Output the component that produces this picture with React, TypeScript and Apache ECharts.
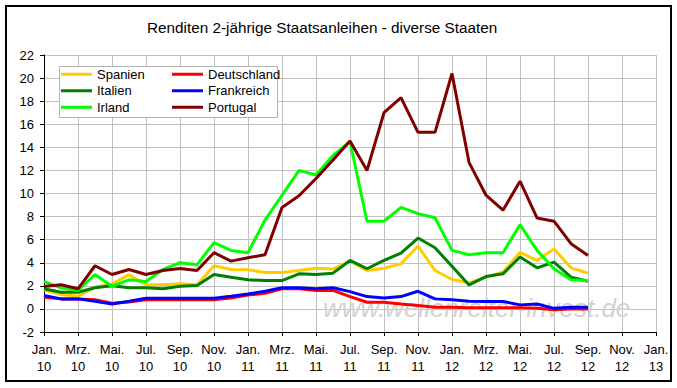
import React, { useEffect, useRef } from "react";
import * as echarts from "echarts";

const categories = [
  "Jan. 10", "Feb. 10", "Mrz. 10", "Apr. 10", "Mai. 10", "Jun. 10", "Jul. 10", "Aug. 10", "Sep. 10", "Okt. 10", "Nov. 10", "Dez. 10",
  "Jan. 11", "Feb. 11", "Mrz. 11", "Apr. 11", "Mai. 11", "Jun. 11", "Jul. 11", "Aug. 11", "Sep. 11", "Okt. 11", "Nov. 11", "Dez. 11",
  "Jan. 12", "Feb. 12", "Mrz. 12", "Apr. 12", "Mai. 12", "Jun. 12", "Jul. 12", "Aug. 12", "Sep. 12", "Okt. 12", "Nov. 12", "Dez. 12",
  "Jan. 13",
];

const spanien = [1.65, 1.24, 1.1, 1.88, 2.17, 2.95, 2.09, 2.09, 2.17, 2.1, 3.74, 3.42, 3.4, 3.16, 3.16, 3.33, 3.53, 3.45, 4.14, 3.33, 3.53, 3.9, 5.45, 3.33, 2.55, 2.26, 2.75, 3.2, 4.9, 4.2, 5.2, 3.56, 3.1];
const deutschland = [1.0, 0.87, 0.87, 0.8, 0.49, 0.6, 0.8, 0.8, 0.8, 0.8, 0.8, 0.95, 1.2, 1.36, 1.74, 1.74, 1.6, 1.6, 1.07, 0.58, 0.58, 0.43, 0.29, 0.14, 0.14, 0.1, 0.1, 0.1, 0.1, 0.05, -0.08, 0.0, 0.0];
const italien = [1.74, 1.45, 1.45, 1.83, 2.0, 1.83, 1.83, 1.74, 1.97, 2.03, 2.98, 2.75, 2.52, 2.46, 2.46, 3.04, 2.98, 3.1, 4.2, 3.48, 4.2, 4.84, 6.14, 5.3, 3.7, 2.08, 2.8, 3.04, 4.5, 3.56, 4.05, 2.75, 2.4];
const frankreich = [1.16, 0.87, 0.87, 0.66, 0.43, 0.66, 0.92, 0.92, 0.92, 0.92, 0.92, 1.1, 1.3, 1.53, 1.83, 1.83, 1.74, 1.83, 1.5, 1.07, 0.95, 1.07, 1.53, 0.87, 0.8, 0.66, 0.65, 0.65, 0.35, 0.43, 0.05, 0.14, 0.14];
const irland = [2.37, 1.83, 1.6, 2.98, 1.97, 2.52, 2.37, 3.42, 4.0, 3.83, 5.74, 5.07, 4.87, 7.7, 9.85, 12.0, 11.6, 13.3, 14.5, 7.6, 7.6, 8.8, 8.26, 7.9, 5.07, 4.7, 4.87, 4.87, 7.3, 5.07, 3.48, 2.52, 2.46];
const portugal = [1.94, 2.09, 1.74, 3.74, 2.98, 3.42, 2.98, 3.33, 3.5, 3.33, 4.87, 4.14, 4.43, 4.7, 8.78, 9.8, 11.3, 12.9, 14.55, 12.0, 17.0, 18.3, 15.3, 15.3, 20.4, 12.7, 9.85, 8.55, 11.07, 7.88, 7.6, 5.65, 4.63];

const seriesDefs = [
  { name: "Spanien", data: spanien, color: "#FFCC00" },
  { name: "Deutschland", data: deutschland, color: "#FF0000" },
  { name: "Italien", data: italien, color: "#008000" },
  { name: "Frankreich", data: frankreich, color: "#0000FF" },
  { name: "Irland", data: irland, color: "#00FF00" },
  { name: "Portugal", data: portugal, color: "#800000" },
];

const FONT = "Arial, 'Liberation Sans', sans-serif";

export default function App() {
  const ref = useRef<HTMLDivElement>(null);
  useEffect(() => {
    const chart = echarts.init(ref.current!, null, { renderer: "svg" });
    const legendCommon = {
      orient: "vertical",
      top: 66,
      padding: 0,
      itemGap: 0,
      itemWidth: 31,
      itemHeight: 3,
      icon: "rect",
      selectedMode: false,
      textStyle: { fontSize: 13, lineHeight: 16.5, color: "#000", fontFamily: FONT },
      z: 10,
    };
    chart.setOption({
      animation: false,
      backgroundColor: "#fff",
      title: {
        text: "Renditen 2-jährige Staatsanleihen - diverse Staaten",
        left: 147,
        top: 20,
        padding: 0,
        textStyle: { fontSize: 15.3, fontWeight: "normal", color: "#000", fontFamily: FONT },
      },
      legend: [
        { ...legendCommon, left: 61, data: ["Spanien", "Italien", "Irland"] },
        { ...legendCommon, left: 172, data: ["Deutschland", "Frankreich", "Portugal"] },
      ],
      grid: { left: 44, right: 21, top: 55, bottom: 56 },
      xAxis: {
        type: "category",
        data: categories,
        boundaryGap: false,
        axisLine: { onZero: false, lineStyle: { color: "#000", width: 1 } },
        axisTick: { show: true, interval: 1, length: 4, lineStyle: { color: "#000" } },
        axisLabel: {
          interval: 1,
          formatter: (v: string) => v.replace(" ", "\n"),
          fontSize: 13,
          lineHeight: 17,
          margin: 9,
          color: "#000",
          fontFamily: FONT,
        },
        splitLine: { show: true, interval: 1, lineStyle: { color: "#c0c0c0", width: 1 } },
      },
      yAxis: {
        type: "value",
        min: -2,
        max: 22,
        interval: 2,
        axisLine: { show: true, lineStyle: { color: "#000", width: 1 } },
        axisTick: { show: true, length: 4, lineStyle: { color: "#000" } },
        axisLabel: { fontSize: 13, color: "#000", margin: 10, fontFamily: FONT },
        splitLine: { show: true, lineStyle: { color: "#c0c0c0", width: 1 } },
      },
      graphic: [
        {
          type: "text",
          z: 1,
          silent: true,
          style: {
            x: 323,
            y: 321,
            text: "www.wellenreiter-invest.de",
            fontSize: 26,
            fontStyle: "italic",
            fontFamily: FONT,
            fill: "#d2d2d2",
            textVerticalAlign: "bottom",
            verticalAlign: "bottom",
          },
        },
        {
          type: "rect",
          z: 5,
          silent: true,
          shape: { x: 59.5, y: 66.5, width: 218, height: 51 },
          style: { fill: "#fff", stroke: "#b4b4b4", lineWidth: 1 },
        },
        {
          type: "rect",
          z: 20,
          silent: true,
          shape: { x: 6, y: 6, width: 665, height: 375 },
          style: { fill: "none", stroke: "#000", lineWidth: 2 },
        },
      ],
      series: seriesDefs.map((s) => ({
        name: s.name,
        type: "line",
        data: s.data,
        symbol: "none",
        showSymbol: false,
        color: s.color,
        lineStyle: { color: s.color, width: 3 },
        itemStyle: { color: s.color },
        z: 3,
      })),
    });
    return () => chart.dispose();
  }, []);
  return (
    <div
      ref={ref}
      style={{ position: "absolute", left: 0, top: 0, width: 677, height: 388, background: "#fff" }}
    />
  );
}
